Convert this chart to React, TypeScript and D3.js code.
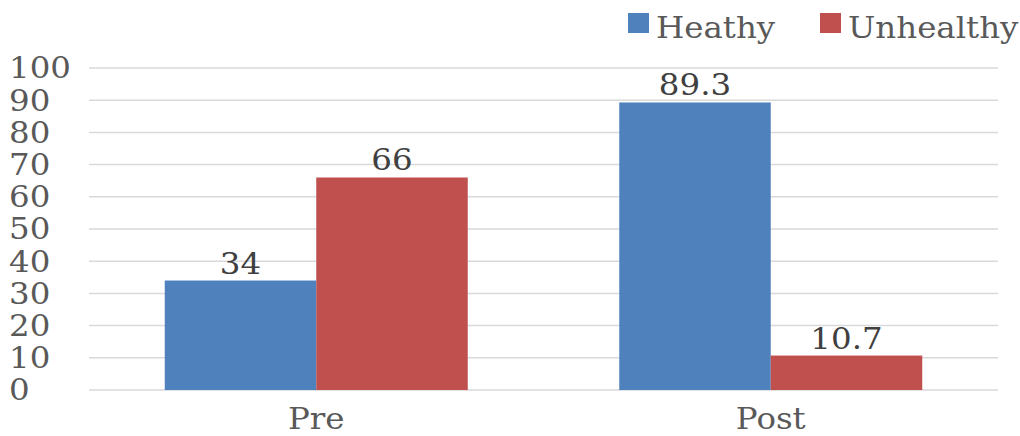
import React, { useEffect, useRef } from 'react';
import * as d3 from 'd3';

const CATEGORIES = ['Pre', 'Post'];
const SERIES = ['Heathy', 'Unhealthy'];
const HEALTHY = [34, 89.3];
const UNHEALTHY = [66, 10.7];
const Y_TICKS = [0, 10, 20, 30, 40, 50, 60, 70, 80, 90, 100];

const COLORS = ['#4f81bd', '#c0504d'];
const W = 1020;
const H = 436;
const FONT = '"DejaVu Serif", serif';
const STRETCH = 1.12; // the source font runs wider than DejaVu Serif

export default function App() {
  const svgRef = useRef<SVGSVGElement>(null);

  useEffect(() => {
    if (!svgRef.current) return;
    const svg = d3.select(svgRef.current);
    svg.selectAll('*').remove();

    svg.append('rect').attr('width', W).attr('height', H).attr('fill', '#ffffff');

    const x0 = d3.scaleBand().domain(CATEGORIES).range([89, 998]).padding(0);
    const x1 = d3.scaleBand().domain(SERIES).range([0, x0.bandwidth()]).paddingInner(0).paddingOuter(0.5);
    const y = d3.scaleLinear().domain([0, 100]).range([390, 68]);

    // text placed with a horizontal stretch around its anchor
    const label = (g, x: number, yy: number, txt: string, anchor: string, fill: string, dy = '0') =>
      g.append('text')
        .attr('transform', `translate(${x},${yy}) scale(${STRETCH},1)`)
        .attr('dy', dy)
        .attr('text-anchor', anchor)
        .attr('font-family', FONT).attr('font-size', 29).attr('fill', fill)
        .text(txt);

    // grid
    svg.append('g')
      .selectAll('line')
      .data(Y_TICKS)
      .join('line')
      .attr('x1', 89).attr('x2', 998)
      .attr('y1', d => y(d)).attr('y2', d => y(d))
      .attr('stroke', '#d9d9d9').attr('stroke-width', 1.5);

    // y tick labels (left aligned)
    const yl = svg.append('g');
    Y_TICKS.forEach(t => label(yl, 9, y(t), String(t), 'start', '#595959', '0.36em'));

    const rows = CATEGORIES.map((c, i) => ({ cat: c, vals: [HEALTHY[i], UNHEALTHY[i]] }));

    const groups = svg.append('g')
      .selectAll('g')
      .data(rows)
      .join('g')
      .attr('transform', d => `translate(${x0(d.cat)},0)`);

    groups.selectAll('rect')
      .data(d => d.vals.map((v, si) => ({ s: SERIES[si], v, si })))
      .join('rect')
      .attr('x', d => x1(d.s)!)
      .attr('width', x1.bandwidth())
      .attr('y', d => y(d.v))
      .attr('height', d => y(0) - y(d.v))
      .attr('fill', d => COLORS[d.si]);

    // value labels
    const vl = svg.append('g');
    rows.forEach(r => {
      r.vals.forEach((v, si) => {
        const cx = x0(r.cat)! + x1(SERIES[si])! + x1.bandwidth() / 2;
        label(vl, cx, y(v) - 7, String(v), 'middle', '#404040');
      });
    });

    // category labels
    const cl = svg.append('g');
    CATEGORIES.forEach(c => label(cl, x0(c)! + x0.bandwidth() / 2, 429, c, 'middle', '#595959'));

    // legend
    const legendX = [628, 820];
    const lg = svg.append('g');
    SERIES.forEach((s, i) => {
      lg.append('rect')
        .attr('x', legendX[i]).attr('y', 13).attr('width', 21).attr('height', 20)
        .attr('fill', COLORS[i]);
      label(lg, legendX[i] + 28, 38, s, 'start', '#595959');
    });
  }, []);

  return (
    <svg
      ref={svgRef}
      width={W}
      height={H}
      style={{ display: 'block', position: 'absolute', left: 0, top: 0 }}
    />
  );
}
